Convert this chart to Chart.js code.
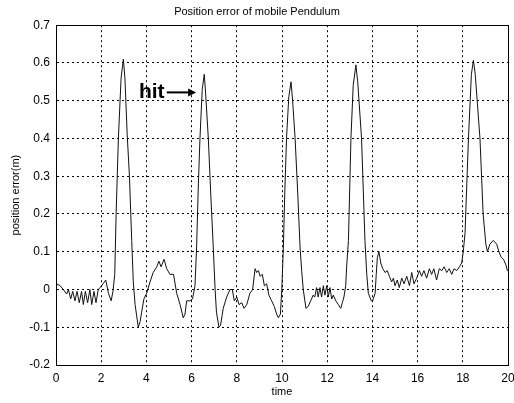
<!DOCTYPE html>
<html>
<head>
<meta charset="utf-8">
<script src="https://cdn.jsdelivr.net/npm/chart.js@4"></script>
<style>
  html, body { margin: 0; padding: 0; background: #fff; }
  #wrap { width: 514px; height: 403px; }
</style>
</head>
<body>
<div id="wrap"><canvas id="line-chart" width="514" height="403"></canvas></div>
<script>
// time samples (s)
var time = [
  0, 0.03, 0.18, 0.32, 0.47, 0.55, 0.65, 0.74, 0.84, 0.93,
  1.03, 1.13, 1.21, 1.3, 1.4, 1.5, 1.58, 1.68, 1.77, 1.87,
  1.95, 2.08, 2.2, 2.32, 2.44, 2.52, 2.6, 2.66, 2.76, 2.88,
  2.98, 3.05, 3.15, 3.25, 3.35, 3.42, 3.5, 3.57, 3.64, 3.72,
  3.79, 3.89, 4.01, 4.16, 4.3, 4.46, 4.55, 4.65, 4.78, 4.9,
  5.04, 5.2, 5.34, 5.49, 5.63, 5.71, 5.78, 5.93, 6.04, 6.15,
  6.22, 6.3, 6.37, 6.47, 6.56, 6.62, 6.74, 6.85, 6.96, 7.04,
  7.1, 7.21, 7.28, 7.4, 7.55, 7.7, 7.8, 7.89, 8.0, 8.1,
  8.22, 8.32, 8.44, 8.58, 8.7, 8.81, 8.88, 8.96, 9.03, 9.13,
  9.22, 9.32, 9.42, 9.54, 9.66, 9.76, 9.84, 9.93, 9.99, 10.06,
  10.12, 10.2, 10.3, 10.4, 10.47, 10.58, 10.7, 10.8, 10.87, 10.94,
  11.06, 11.16, 11.27, 11.38, 11.45, 11.53, 11.6, 11.68, 11.75, 11.83,
  11.9, 11.98, 12.05, 12.12, 12.2, 12.27, 12.38, 12.49, 12.6, 12.67,
  12.74, 12.82, 12.86, 12.94, 13.05, 13.15, 13.27, 13.35, 13.52, 13.67,
  13.75, 13.82, 13.95, 14.01, 14.12, 14.17, 14.22, 14.29, 14.37, 14.46,
  14.56, 14.66, 14.75, 14.85, 14.93, 15.0, 15.1, 15.19, 15.3, 15.4,
  15.52, 15.64, 15.74, 15.84, 15.96, 16.08, 16.18, 16.28, 16.4, 16.52,
  16.62, 16.72, 16.84, 16.96, 17.07, 17.17, 17.29, 17.4, 17.51, 17.61,
  17.73, 17.85, 17.95, 18.02, 18.1, 18.25, 18.38, 18.47, 18.55, 18.76,
  18.9, 19.02, 19.09, 19.2, 19.35, 19.5, 19.6, 19.7, 19.8, 19.91,
  19.97, 20.0
];

// position error (m)
var posError = [
  0.01, 0.015, 0.01, 0.0, -0.012, 0.0, -0.025, -0.005, -0.03, -0.005,
  -0.035, -0.005, -0.04, -0.005, -0.035, 0.0, -0.04, -0.005, -0.035, 0.0,
  0.005, 0.015, 0.025, -0.01, -0.03, -0.005, 0.04, 0.2, 0.4, 0.56,
  0.61, 0.56, 0.41, 0.3, 0.13, 0.02, -0.04, -0.07, -0.1, -0.085,
  -0.06, -0.025, -0.01, 0.02, 0.045, 0.06, 0.075, 0.06, 0.08, 0.055,
  0.04, 0.04, -0.01, -0.04, -0.075, -0.065, -0.03, -0.03, -0.025, 0.01,
  0.11, 0.28, 0.4, 0.53, 0.57, 0.52, 0.4, 0.25, 0.11, 0.0,
  -0.06, -0.1, -0.095, -0.05, -0.02, 0.0, 0.0, -0.03, -0.02, -0.04,
  -0.035, -0.05, -0.04, -0.01, 0.0, 0.055, 0.045, 0.05, 0.035, 0.04,
  0.01, 0.015, -0.015, -0.03, -0.045, -0.065, -0.075, -0.065, 0.0, 0.11,
  0.25, 0.4, 0.51, 0.55, 0.5, 0.4, 0.25, 0.11, 0.05, 0.0,
  -0.05, -0.045, -0.03, -0.015, -0.02, 0.005, -0.02, 0.005, -0.02, 0.01,
  -0.015, 0.01, -0.02, 0.005, -0.025, -0.015, -0.03, -0.04, -0.05, -0.035,
  -0.02, 0.01, 0.06, 0.13, 0.4, 0.54, 0.595, 0.55, 0.4, 0.13,
  0.04, -0.01, -0.03, -0.03, -0.01, 0.04, 0.085, 0.1, 0.07, 0.055,
  0.045, 0.05, 0.035, 0.02, 0.03, 0.01, 0.025, 0.005, 0.03, 0.015,
  0.035, 0.01, 0.045, 0.015, 0.03, 0.05, 0.035, 0.05, 0.03, 0.055,
  0.04, 0.055, 0.025, 0.055, 0.05, 0.06, 0.045, 0.055, 0.04, 0.055,
  0.05, 0.06, 0.07, 0.1, 0.15, 0.4, 0.57, 0.607, 0.57, 0.4,
  0.2, 0.12, 0.1, 0.12, 0.13, 0.12, 0.1, 0.085, 0.08, 0.065,
  0.05, 0.05
];

// axis ranges
var xTicks = { min: 0, max: 20, step: 2 };
var yTicks = { min: -0.2, max: 0.7, step: 0.1 };

// "hit" note: text start and arrow, in data units
var hitText = { x: 3.67, y: 0.508 };
var hitArrow = { x0: 4.9, x1: 6.2, y: 0.522 };

var points = time.map(function(t, i) { return { x: t, y: posError[i] }; });

var FONT = "'Liberation Sans', Arial, Helvetica, sans-serif";

// box round the plot + the annotation
var boxPlugin = {
  id: 'box',
  afterDraw: function(chart) {
    var ctx = chart.ctx, a = chart.chartArea;
    var xs = chart.scales.x, ys = chart.scales.y;
    ctx.save();
    ctx.strokeStyle = '#000';
    ctx.lineWidth = 1;
    ctx.strokeRect(Math.round(a.left) + 0.5, Math.round(a.top) + 0.5,
                   Math.round(a.right - a.left), Math.round(a.bottom - a.top));

    // hit annotation
    ctx.fillStyle = '#000';
    ctx.font = 'bold 21px ' + FONT;
    ctx.textBaseline = 'alphabetic';
    ctx.fillText('hit', xs.getPixelForValue(hitText.x), ys.getPixelForValue(hitText.y));
    var x0 = xs.getPixelForValue(hitArrow.x0), x1 = xs.getPixelForValue(hitArrow.x1);
    var y = ys.getPixelForValue(hitArrow.y);
    ctx.lineWidth = 2;
    ctx.beginPath();
    ctx.moveTo(x0, y);
    ctx.lineTo(x1 - 4, y);
    ctx.stroke();
    ctx.beginPath();
    ctx.moveTo(x1, y);
    ctx.lineTo(x1 - 8, y - 4);
    ctx.lineTo(x1 - 8, y + 4);
    ctx.closePath();
    ctx.fill();
    ctx.restore();
  }
};

function fmt(v) {
  var r = Math.round(v * 10) / 10;
  return r === 0 ? '0' : String(r);
}

new Chart(document.getElementById("line-chart"), {
  type: 'line',
  data: {
    datasets: [{
      data: points,
      borderColor: '#111',
      borderWidth: 1,
      pointRadius: 0,
      tension: 0,
      fill: false
    }]
  },
  plugins: [boxPlugin],
  options: {
    responsive: false,
    animation: false,
    layout: { padding: { left: 0, right: 0, top: 0, bottom: 0 } },
    plugins: {
      legend: { display: false },
      tooltip: { enabled: false },
      title: {
        display: true,
        text: 'Position error of mobile Pendulum',
        color: '#000',
        font: { family: FONT, size: 11, weight: 'normal', lineHeight: 1.2 },
        padding: { top: 5, bottom: 7 }
      }
    },
    scales: {
      x: {
        type: 'linear',
        min: xTicks.min,
        max: xTicks.max,
        afterFit: function(s) { s.height = 38; s.paddingRight = 6; s.paddingLeft = 0; },
        border: { display: true, color: '#000', dash: [2, 3] },
        grid: {
          color: '#000',
          lineWidth: 1,
          drawTicks: false
        },
        ticks: {
          stepSize: xTicks.step,
          color: '#000',
          padding: 6,
          maxRotation: 0,
          font: { family: FONT, size: 12 }
        },
        title: {
          display: true,
          text: 'time',
          color: '#000',
          font: { family: FONT, size: 11 },
          padding: { top: 4, bottom: 4 }
        }
      },
      y: {
        type: 'linear',
        min: yTicks.min,
        max: yTicks.max,
        afterFit: function(s) { s.width = 56; s.paddingTop = 0; s.paddingBottom = 0; },
        border: { display: true, color: '#000', dash: [2, 3] },
        grid: {
          color: '#000',
          lineWidth: 1,
          drawTicks: false
        },
        ticks: {
          stepSize: yTicks.step,
          color: '#000',
          padding: 6,
          font: { family: FONT, size: 12 },
          callback: fmt
        },
        title: {
          display: true,
          text: 'position error(m)',
          color: '#000',
          font: { family: FONT, size: 11 },
          padding: { top: 9, bottom: 0 }
        }
      }
    }
  }
});
</script>
</body>
</html>
